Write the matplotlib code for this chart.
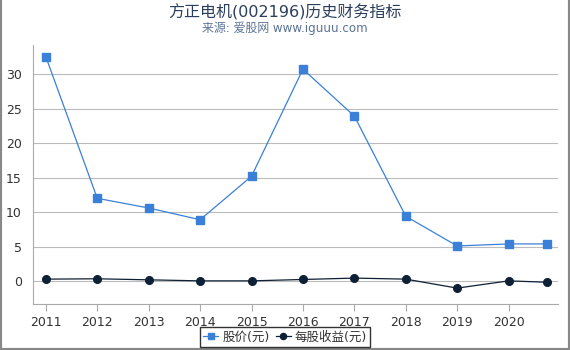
import matplotlib
matplotlib.use("Agg")
import matplotlib.pyplot as plt
from matplotlib.lines import Line2D

plt.rcParams['font.family'] = ['DejaVu Sans', 'Noto Sans CJK SC']

years = [2011, 2012, 2013, 2014, 2015, 2016, 2017, 2018, 2019, 2020, 2020.75]
tick_years = [2011, 2012, 2013, 2014, 2015, 2016, 2017, 2018, 2019, 2020]
price = [32.5, 12.0, 10.6, 8.9, 15.2, 30.7, 23.9, 9.4, 5.1, 5.4, 5.4]
eps = [0.3, 0.35, 0.2, 0.05, 0.05, 0.25, 0.45, 0.3, -1.0, 0.05, -0.15]

fig = plt.figure(figsize=(5.7, 3.5), dpi=100)
ax = fig.add_axes([33/570, 1-304/350, (558-33)/570, (304-45)/350])

ax.plot(years, price, color='#3a80d8', lw=0.9, marker='s', ms=5.5,
        label='股价(元)', zorder=3)
ax.plot(years, eps, color='#0e2035', lw=0.9, marker='o', ms=5.5,
        label='每股收益(元)', zorder=3)

ax.set_xlim(2010.75, 2020.96)
ax.set_ylim(-3.3, 34.2)
ax.set_yticks([0, 5, 10, 15, 20, 25, 30])
ax.set_xticks(tick_years)
ax.yaxis.grid(True, color='#bbbbbb', lw=0.8)
ax.set_axisbelow(True)
for s in ['top', 'right']:
    ax.spines[s].set_visible(False)
for s in ['left', 'bottom']:
    ax.spines[s].set_color('#aaaaaa')
ax.tick_params(axis='y', length=0, labelsize=9, colors='#333333', pad=8)
ax.tick_params(axis='x', length=5, color='#aaaaaa', labelsize=9, colors='#333333')

fig.text(0.5, 1-12/350, '方正电机(002196)历史财务指标', ha='center', va='center',
         fontsize=11.5, color='#2b3f5c')
fig.text(0.5, 1-28/350, '来源: 爱股网 www.iguuu.com', ha='center', va='center',
         fontsize=8.6, color='#5a7396')

leg = fig.legend(loc='center', bbox_to_anchor=(0.5, 1-337/350), ncol=2,
                 fontsize=9, frameon=True, fancybox=False, handlelength=1.2,
                 handletextpad=0.3, columnspacing=0.5, borderpad=0.25,
                 markerscale=0.8)
leg.get_frame().set_edgecolor('black')
leg.get_frame().set_linewidth(1.0)
for t in leg.get_texts():
    t.set_color('#333333')

border = dict(transform=fig.transFigure, color='#888888', lw=3)
fig.add_artist(Line2D([0, 0], [0, 1], **border))
fig.add_artist(Line2D([1, 1], [0, 1], **border))
fig.add_artist(Line2D([0, 1], [0, 0], **border))

fig.savefig('out.png', dpi=100)
